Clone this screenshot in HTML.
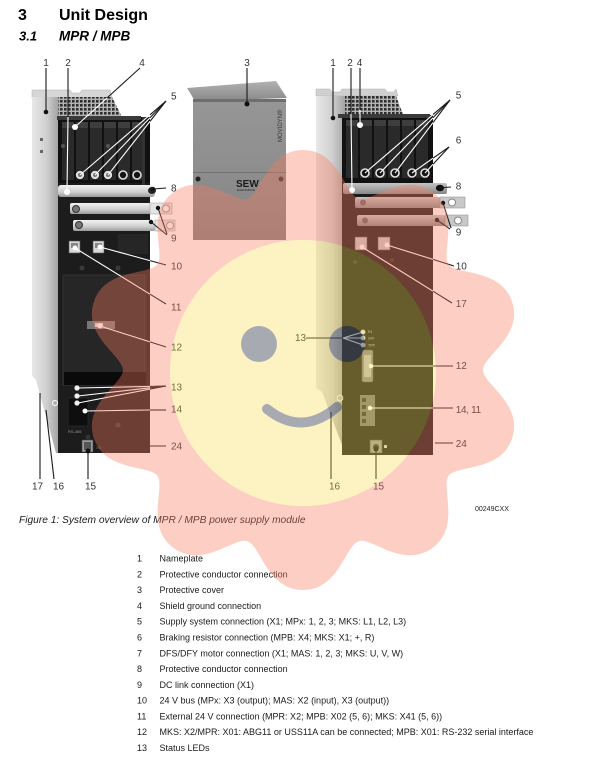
<!DOCTYPE html>
<html><head><meta charset="utf-8">
<style>
html,body{margin:0;padding:0;background:#fff;}
svg{display:block;}
text{font-family:"Liberation Sans",Arial,sans-serif;}
.lb{font-size:10px;fill:#333;}
.li{font-size:9px;fill:#1a1a1a;}
</style></head><body>
<svg width="600" height="757" viewBox="0 0 600 757" xmlns="http://www.w3.org/2000/svg">
<defs>
<linearGradient id="side" x1="0" x2="1" y1="0" y2="0"><stop offset="0" stop-color="#e8e8e8"/><stop offset="0.55" stop-color="#d0d0d0"/><stop offset="1" stop-color="#a4a4a4"/></linearGradient>
<linearGradient id="bar" x1="0" x2="0" y1="0" y2="1"><stop offset="0" stop-color="#f2f2f2"/><stop offset="0.6" stop-color="#cdcdcd"/><stop offset="1" stop-color="#9a9a9a"/></linearGradient>
<linearGradient id="barR" x1="0" x2="0" y1="0" y2="1"><stop offset="0" stop-color="#c4c4c4"/><stop offset="1" stop-color="#888"/></linearGradient>
<linearGradient id="cov" x1="0" x2="0" y1="0" y2="1"><stop offset="0" stop-color="#969696"/><stop offset="0.5" stop-color="#8e8e8e"/><stop offset="1" stop-color="#828282"/></linearGradient>
<linearGradient id="lip" x1="0" x2="0" y1="0" y2="1"><stop offset="0" stop-color="#b2b2b2"/><stop offset="1" stop-color="#888"/></linearGradient>
<pattern id="fins" width="4" height="4" patternUnits="userSpaceOnUse"><rect width="4" height="4" fill="#b4b4b4"/><rect width="2.6" height="2.6" fill="#2e2e2e"/></pattern>
<mask id="ym"><rect width="600" height="757" fill="#fff"/><circle cx="259" cy="344" r="18" fill="#000"/><circle cx="347" cy="344" r="18" fill="#000"/><path d="M267,409 Q302,437 337,407" stroke="#000" stroke-width="10" stroke-linecap="round" fill="none"/></mask>
</defs>

<!-- Titles -->
<text x="18" y="20" font-size="16" font-weight="bold" fill="#000">3</text>
<text x="59" y="20" font-size="16" font-weight="bold" fill="#000">Unit Design</text>
<text x="19" y="40.5" font-size="13" font-weight="bold" font-style="italic" fill="#000">3.1</text>
<text x="59" y="40.5" font-size="13.5" font-weight="bold" font-style="italic" fill="#000">MPR / MPB</text>

<!-- ============ LEFT DEVICE ============ -->
<path d="M32,90 L70,90 L72,93 L80,93 L82,90 L110,90 L112,98 L32,98 Z" fill="#d6d6d6" stroke="#b0b0b0" stroke-width="0.5"/>
<polygon points="54,97 112,97 122,117 58,117" fill="url(#fins)"/>
<polygon points="32,97 58,97 58,453 56,453 36,380 32,376" fill="url(#side)"/>
<rect x="40" y="138" width="3" height="3" fill="#666"/><rect x="40" y="150" width="3" height="3" fill="#666"/>
<rect x="58" y="117" width="92" height="336" fill="#1c1c1c"/>
<rect x="58" y="117" width="92" height="66" fill="#111"/>
<rect x="57" y="116" width="84" height="4" fill="#3a3a3a"/>
<rect x="142" y="117" width="3" height="68" fill="#333"/>
<g fill="#2a2a2a"><rect x="62" y="122" width="12" height="58"/><rect x="76" y="122" width="12" height="58"/><rect x="90" y="122" width="12" height="58"/><rect x="104" y="122" width="12" height="58"/><rect x="118" y="122" width="12" height="58"/><rect x="132" y="122" width="10" height="58"/></g>
<g fill="#3e3e3e"><rect x="62" y="122" width="12" height="6"/><rect x="76" y="122" width="12" height="6"/><rect x="90" y="122" width="12" height="6"/><rect x="104" y="122" width="12" height="6"/><rect x="118" y="122" width="12" height="6"/><rect x="132" y="122" width="10" height="6"/></g>
<circle cx="63" cy="146" r="2" fill="#555"/><circle cx="108" cy="146" r="2" fill="#555"/>
<g stroke="#111" stroke-width="0.8"><circle cx="80" cy="175" r="4.6" fill="#e0e0e0"/><circle cx="95" cy="175" r="4.6" fill="#e0e0e0"/><circle cx="108" cy="175" r="4.6" fill="#e0e0e0"/></g>
<g fill="#777"><circle cx="80" cy="175" r="2"/><circle cx="95" cy="175" r="2"/><circle cx="108" cy="175" r="2"/></g>
<g fill="#141414" stroke="#ddd" stroke-width="1.6"><circle cx="123" cy="175" r="4"/><circle cx="137" cy="175" r="4"/></g>
<rect x="58" y="185" width="97" height="12" rx="3" fill="url(#bar)"/>
<ellipse cx="152" cy="190.5" rx="4" ry="3.5" fill="#222"/>
<rect x="70" y="203" width="82" height="11" rx="2" fill="url(#bar)"/>
<rect x="150" y="203" width="22" height="11" fill="#e4e4e4" stroke="#999" stroke-width="0.5"/>
<circle cx="166" cy="208.5" r="3.5" fill="#fff" stroke="#999"/>
<circle cx="76" cy="209" r="3.5" fill="#777" stroke="#333"/>
<rect x="73" y="220" width="82" height="11" rx="2" fill="url(#bar)"/>
<rect x="155" y="220" width="20" height="11" fill="#e4e4e4" stroke="#999" stroke-width="0.5"/>
<circle cx="170" cy="225.5" r="3.5" fill="#fff" stroke="#999"/>
<circle cx="79" cy="225" r="3.5" fill="#777" stroke="#333"/>
<rect x="118" y="234" width="30" height="20" fill="#262626"/>
<rect x="69" y="241" width="11" height="12" fill="#d8d8d8" stroke="#555" stroke-width="0.6"/><rect x="71" y="243" width="7" height="5" fill="#888"/>
<rect x="93" y="241" width="11" height="12" fill="#d8d8d8" stroke="#555" stroke-width="0.6"/><rect x="95" y="243" width="7" height="5" fill="#888"/>
<circle cx="82" cy="268" r="2.5" fill="#3a3a3a"/><circle cx="118" cy="268" r="2.5" fill="#3a3a3a"/>
<rect x="63" y="275" width="82" height="110" fill="#262626" stroke="#323232"/>
<rect x="87" y="321" width="28" height="8" fill="#777"/><rect x="95" y="323" width="8" height="4" fill="#ddd"/>
<rect x="64" y="372" width="82" height="13" fill="#0a0a0a"/>
<rect x="68" y="398" width="20" height="28" fill="#0e0e0e" stroke="#333" stroke-width="0.6"/>
<text x="68" y="433" font-size="4" fill="#999">RS-485</text>
<circle cx="88" cy="437" r="2.5" fill="#333"/><circle cx="118" cy="425" r="2.5" fill="#3a3a3a"/>
<rect x="82" y="440" width="11" height="12" fill="#9a9a9a" stroke="#444" stroke-width="0.6"/><rect x="84" y="442" width="7" height="8" fill="#555"/>
<text x="96" y="449" font-size="4" fill="#777">X3</text>
<circle cx="55" cy="403" r="2.5" fill="none" stroke="#fff" stroke-width="1"/>
<g fill="#eee"><circle cx="77" cy="388" r="2.6"/><circle cx="77" cy="396" r="2.6"/><circle cx="77" cy="403" r="2.6"/></g>

<!-- ============ COVER ============ -->
<path d="M187,88 L276,81 L287,98 L195,101 Z" fill="url(#lip)"/>
<rect x="193" y="99" width="93" height="141" fill="url(#cov)"/>
<rect x="193" y="99" width="93" height="3" fill="#6e6e6e"/>
<rect x="193" y="172" width="93" height="1" fill="#707070"/>
<circle cx="198" cy="179" r="2.5" fill="#222"/><circle cx="281" cy="179" r="2.5" fill="#333"/>
<text x="236" y="187" font-size="10" font-weight="bold" fill="#1a1a1a">SEW</text>
<text x="237" y="191" font-size="3" fill="#222">EURODRIVE</text>
<text transform="translate(282,142) rotate(-90)" font-size="6" fill="#3a3a3a">MOVIDYN®</text>

<!-- ============ RIGHT DEVICE ============ -->
<path d="M316,89 L330,89 L332,92 L340,92 L342,89 L385,89 L387,92 L394,92 L396,89 L398,96 L316,96 Z" fill="#d0d0d0" stroke="#b0b0b0" stroke-width="0.5"/>
<polygon points="336,96 396,96 404,117 340,117" fill="url(#fins)"/>
<polygon points="316,96 345,96 345,453 322,392 316,388" fill="url(#side)"/>
<rect x="342" y="115" width="91" height="340" fill="#1c1c1c"/>
<rect x="342" y="115" width="91" height="68" fill="#111"/>
<rect x="338" y="114" width="92" height="4" fill="#3a3a3a"/>
<g fill="#2a2a2a"><rect x="346" y="120" width="12" height="58"/><rect x="360" y="120" width="12" height="58"/><rect x="374" y="120" width="12" height="58"/><rect x="388" y="120" width="12" height="58"/><rect x="402" y="120" width="12" height="58"/><rect x="416" y="120" width="12" height="58"/></g>
<g fill="#3e3e3e"><rect x="346" y="120" width="12" height="6"/><rect x="360" y="120" width="12" height="6"/><rect x="374" y="120" width="12" height="6"/><rect x="388" y="120" width="12" height="6"/><rect x="402" y="120" width="12" height="6"/><rect x="416" y="120" width="12" height="6"/></g>
<g fill="#141414" stroke="#e0e0e0" stroke-width="1.6"><circle cx="365" cy="173" r="4"/><circle cx="380" cy="173" r="4"/><circle cx="395" cy="173" r="4"/><circle cx="412" cy="173" r="4"/><circle cx="425" cy="173" r="4"/></g>
<rect x="343" y="183" width="104" height="11" rx="2" fill="url(#barR)"/>
<ellipse cx="440" cy="188" rx="4" ry="3.3" fill="#111"/>
<rect x="355" y="197" width="86" height="11" rx="2" fill="url(#barR)"/>
<rect x="440" y="197" width="25" height="11" fill="#c8c8c8" stroke="#888" stroke-width="0.5"/>
<circle cx="452" cy="202.5" r="3.5" fill="#fff" stroke="#888"/>
<circle cx="363" cy="202.5" r="3" fill="#666"/>
<rect x="357" y="215" width="88" height="11" rx="2" fill="url(#barR)"/>
<rect x="445" y="215" width="23" height="11" fill="#c8c8c8" stroke="#888" stroke-width="0.5"/>
<circle cx="458" cy="220.5" r="3.5" fill="#fff" stroke="#888"/>
<circle cx="365" cy="220.5" r="3" fill="#666"/>
<rect x="355" y="237" width="12" height="13" fill="#c8c8c8" stroke="#555" stroke-width="0.6"/>
<rect x="378" y="237" width="12" height="13" fill="#c8c8c8" stroke="#555" stroke-width="0.6"/>
<circle cx="355" cy="262" r="2" fill="#333"/><circle cx="392" cy="260" r="2" fill="#333"/>
<g fill="#ddd"><circle cx="363" cy="332" r="2.4"/><circle cx="363" cy="338" r="2.4"/><circle cx="363" cy="345" r="2.4"/></g>
<g font-size="3.5" fill="#bbb"><text x="368" y="333">R1</text><text x="368" y="339.5">24V</text><text x="368" y="346.5">TRP</text></g>
<rect x="362" y="350" width="11" height="32" rx="2" fill="#8a8a8a" stroke="#555" stroke-width="0.6"/>
<rect x="364" y="355" width="7" height="22" fill="#bbb"/>
<rect x="360" y="395" width="15" height="31" fill="#777"/>
<g fill="#333"><rect x="362" y="398" width="4" height="4"/><rect x="362" y="405" width="4" height="4"/><rect x="362" y="412" width="4" height="4"/><rect x="362" y="419" width="4" height="4"/></g>
<rect x="370" y="440" width="12" height="13" fill="#999" stroke="#444" stroke-width="0.6"/>
<circle cx="376" cy="447" r="3" fill="#333"/>
<rect x="384" y="445" width="3" height="3" fill="#ccc"/>
<circle cx="340" cy="398" r="2.8" fill="none" stroke="#eee" stroke-width="1"/>

<!-- ============ LEADER LINES ============ -->
<g stroke="#1a1a1a" stroke-width="1.1" fill="none">
<line x1="46" y1="68" x2="46" y2="112"/>
<line x1="68" y1="68" x2="68" y2="117"/>
<line x1="140" y1="68" x2="107" y2="98"/>
<line x1="166" y1="101" x2="150" y2="114.8"/>
<line x1="166" y1="101" x2="150" y2="117.7"/>
<line x1="166" y1="101" x2="150" y2="121.4"/>
<line x1="166" y1="188" x2="153" y2="189"/>
<line x1="167" y1="234" x2="158" y2="208"/>
<line x1="167" y1="235" x2="151" y2="222"/>
<line x1="166" y1="265" x2="150" y2="260.6"/>
<line x1="166" y1="304" x2="150" y2="294.2"/>
<line x1="166" y1="347" x2="150" y2="341.9"/>
<line x1="166" y1="386" x2="150" y2="386.4"/>
<line x1="166" y1="386" x2="150" y2="387.8"/>
<line x1="166" y1="386" x2="150" y2="389.1"/>
<line x1="166" y1="410" x2="150" y2="410"/>
<line x1="166" y1="446" x2="149" y2="446"/>
<line x1="88" y1="479" x2="88" y2="451"/>
<line x1="54" y1="479" x2="46" y2="410"/>
<line x1="40" y1="479" x2="40" y2="393"/>
<line x1="247" y1="68" x2="247" y2="103"/>
<line x1="333" y1="68" x2="333" y2="118"/>
<line x1="351" y1="68" x2="351" y2="114"/>
<line x1="360" y1="68" x2="360" y2="110"/>
<line x1="450" y1="100" x2="433" y2="114.6"/>
<line x1="450" y1="100" x2="433" y2="117.7"/>
<line x1="450" y1="100" x2="433" y2="122.6"/>
<line x1="449" y1="147" x2="433" y2="158.2"/>
<line x1="449" y1="147" x2="433" y2="164.3"/>
<line x1="451" y1="187" x2="438" y2="188"/>
<line x1="451" y1="228" x2="443" y2="203"/>
<line x1="450" y1="229" x2="437" y2="220"/>
<line x1="454" y1="266" x2="433" y2="259.4"/>
<line x1="452" y1="303" x2="433" y2="291.2"/>
<line x1="306" y1="338" x2="343" y2="338"/>
<line x1="453" y1="366" x2="433" y2="366"/>
<line x1="453" y1="408" x2="433" y2="408"/>
<line x1="453" y1="443" x2="435" y2="443"/>
<line x1="376" y1="479" x2="376" y2="450"/>
<line x1="331" y1="479" x2="331" y2="412"/>
</g>
<g fill="#111">
<circle cx="46" cy="112" r="2.3"/><circle cx="153" cy="189" r="2"/><circle cx="158" cy="208" r="2.2"/><circle cx="151" cy="222" r="2.2"/>
<circle cx="88" cy="451" r="2.5"/><circle cx="247" cy="104" r="2.5"/><circle cx="333" cy="118" r="2.3"/>
<circle cx="438" cy="188" r="2"/><circle cx="443" cy="203" r="2.2"/><circle cx="437" cy="220" r="2.2"/><circle cx="376" cy="449" r="2.5"/>
</g>
<g stroke="#fff" stroke-width="1.1" fill="none">
<line x1="68" y1="117" x2="67" y2="191"/>
<line x1="107" y1="98" x2="75" y2="127"/>
<line x1="150" y1="114.8" x2="80" y2="175"/>
<line x1="150" y1="117.7" x2="95" y2="175"/>
<line x1="150" y1="121.4" x2="108" y2="175"/>
<line x1="150" y1="260.6" x2="100" y2="247"/>
<line x1="150" y1="294.2" x2="75" y2="248"/>
<line x1="150" y1="341.9" x2="100" y2="326"/>
<line x1="150" y1="386.4" x2="78" y2="388"/>
<line x1="150" y1="387.8" x2="78" y2="396"/>
<line x1="150" y1="389.1" x2="78" y2="403"/>
<line x1="150" y1="410" x2="86" y2="411"/>
<line x1="351" y1="114" x2="352" y2="190"/>
<line x1="360" y1="110" x2="360" y2="125"/>
<line x1="433" y1="114.6" x2="365" y2="173"/>
<line x1="433" y1="117.7" x2="380" y2="173"/>
<line x1="433" y1="122.6" x2="395" y2="173"/>
<line x1="433" y1="158.2" x2="412" y2="173"/>
<line x1="433" y1="164.3" x2="425" y2="173"/>
<line x1="433" y1="259.4" x2="387" y2="245"/>
<line x1="433" y1="291.2" x2="362" y2="247"/>
<line x1="343" y1="338" x2="363" y2="332"/>
<line x1="343" y1="338" x2="363" y2="338"/>
<line x1="343" y1="338" x2="363" y2="345"/>
<line x1="433" y1="366" x2="372" y2="366"/>
<line x1="433" y1="408" x2="370" y2="408"/>
</g>
<g fill="#fff">
<circle cx="67" cy="192" r="3"/><circle cx="75" cy="127" r="3"/><circle cx="100" cy="247" r="2.5"/><circle cx="75" cy="248" r="2.5"/>
<circle cx="100" cy="326" r="2.5"/><circle cx="85" cy="411" r="2.5"/>
<circle cx="352" cy="190" r="3"/><circle cx="360" cy="125" r="3"/><circle cx="387" cy="245" r="2.5"/><circle cx="362" cy="247" r="2.5"/>
<circle cx="371" cy="366" r="2.3"/><circle cx="370" cy="408" r="2.3"/>
</g>

<!-- ============ LABELS ============ -->
<g class="lb">
<text x="46" y="66" text-anchor="middle">1</text>
<text x="68" y="66" text-anchor="middle">2</text>
<text x="142" y="66" text-anchor="middle">4</text>
<text x="247" y="66" text-anchor="middle">3</text>
<text x="333" y="66" text-anchor="middle">1</text>
<text x="350" y="66" text-anchor="middle">2</text>
<text x="359.5" y="66" text-anchor="middle">4</text>
<text x="171" y="99.6">5</text>
<text x="171" y="191.3">8</text>
<text x="171" y="241.3">9</text>
<text x="171" y="269.6">10</text>
<text x="171" y="310.3">11</text>
<text x="171" y="350.6">12</text>
<text x="171" y="390.3">13</text>
<text x="171" y="412.6">14</text>
<text x="171" y="449.6">24</text>
<text x="32" y="489.6">17</text>
<text x="53" y="489.6">16</text>
<text x="85" y="489.6">15</text>
<text x="329" y="489.6">16</text>
<text x="373" y="489.6">15</text>
<text x="295" y="341">13</text>
<text x="455.7" y="98.6">5</text>
<text x="455.7" y="143.6">6</text>
<text x="455.7" y="189.6">8</text>
<text x="455.7" y="235.3">9</text>
<text x="455.7" y="269.6">10</text>
<text x="455.7" y="306.9">17</text>
<text x="455.7" y="368.9">12</text>
<text x="455.7" y="412.9" letter-spacing="-0.3">14, 11</text>
<text x="455.7" y="446.9">24</text>
</g>
<text x="475" y="511" font-size="7" fill="#222">00249CXX</text>

<!-- Caption -->
<text x="19" y="523" font-size="10.2" font-style="italic" fill="#1a1a1a">Figure 1: System overview of MPR / MPB power supply module</text>

<!-- List -->
<g class="li">
<text x="137" y="561.6">1</text><text x="159.5" y="561.6">Nameplate</text>
<text x="137" y="577.4">2</text><text x="159.5" y="577.4">Protective conductor connection</text>
<text x="137" y="593.2">3</text><text x="159.5" y="593.2">Protective cover</text>
<text x="137" y="608.9">4</text><text x="159.5" y="608.9">Shield ground connection</text>
<text x="137" y="624.7">5</text><text x="159.5" y="624.7">Supply system connection (X1; MPx: 1, 2, 3; MKS: L1, L2, L3)</text>
<text x="137" y="640.5">6</text><text x="159.5" y="640.5">Braking resistor connection (MPB: X4; MKS: X1; +, R)</text>
<text x="137" y="656.3">7</text><text x="159.5" y="656.3">DFS/DFY motor connection (X1; MAS: 1, 2, 3; MKS: U, V, W)</text>
<text x="137" y="672.1">8</text><text x="159.5" y="672.1">Protective conductor connection</text>
<text x="137" y="687.8">9</text><text x="159.5" y="687.8">DC link connection (X1)</text>
<text x="137" y="703.6">10</text><text x="159.5" y="703.6">24 V bus (MPx: X3 (output); MAS: X2 (input), X3 (output))</text>
<text x="137" y="719.4">11</text><text x="159.5" y="719.4">External 24 V connection (MPR: X2; MPB: X02 (5, 6); MKS: X41 (5, 6))</text>
<text x="137" y="735.2">12</text><text x="159.5" y="735.2">MKS: X2/MPR: X01: ABG11 or USS11A can be connected; MPB: X01: RS-232 serial interface</text>
<text x="137" y="751">13</text><text x="159.5" y="751">Status LEDs</text>
</g>

<!-- ============ WATERMARK ============ -->
<path fill-rule="evenodd" fill="rgb(250,125,95)" fill-opacity="0.37" d="M303,150 C339,150 345.3,194.5 358.6,198.8 C371.9,203.1 403.2,170.8 432.3,192 C461.4,213.2 440.4,252.9 448.6,264.2 C456.8,275.5 501.1,267.8 512.2,302 C523.3,336.2 483,356 483,370 C483,384 523.3,403.8 512.2,438 C501.1,472.2 456.8,464.5 448.6,475.8 C440.4,487.1 461.4,526.8 432.3,548 C403.2,569.2 371.9,536.9 358.6,541.2 C345.3,545.5 339,590 303,590 C267,590 260.7,545.5 247.4,541.2 C234.1,536.9 202.8,569.2 173.7,548 C144.6,526.8 165.6,487.1 157.4,475.8 C149.2,464.5 104.9,472.2 93.8,438 C82.7,403.8 123,384 123,370 C123,356 82.7,336.2 93.8,302 C104.9,267.8 149.2,275.5 157.4,264.2 C165.6,252.9 144.6,213.2 173.7,192 C202.8,170.8 234.1,203.1 247.4,198.8 C260.7,194.5 267,150 303,150 Z M170,373 A133,133 0 1,0 436,373 A133,133 0 1,0 170,373 Z"/>
<circle cx="303" cy="373" r="133" fill="rgb(250,220,75)" fill-opacity="0.34" mask="url(#ym)"/>
<g fill="rgb(80,88,100)" fill-opacity="0.5"><circle cx="259" cy="344" r="18"/><circle cx="347" cy="344" r="18"/></g>
<path d="M267,409 Q302,437 337,407" stroke="rgb(80,88,100)" stroke-opacity="0.5" stroke-width="10" stroke-linecap="round" fill="none"/>
</svg>
</body></html>
